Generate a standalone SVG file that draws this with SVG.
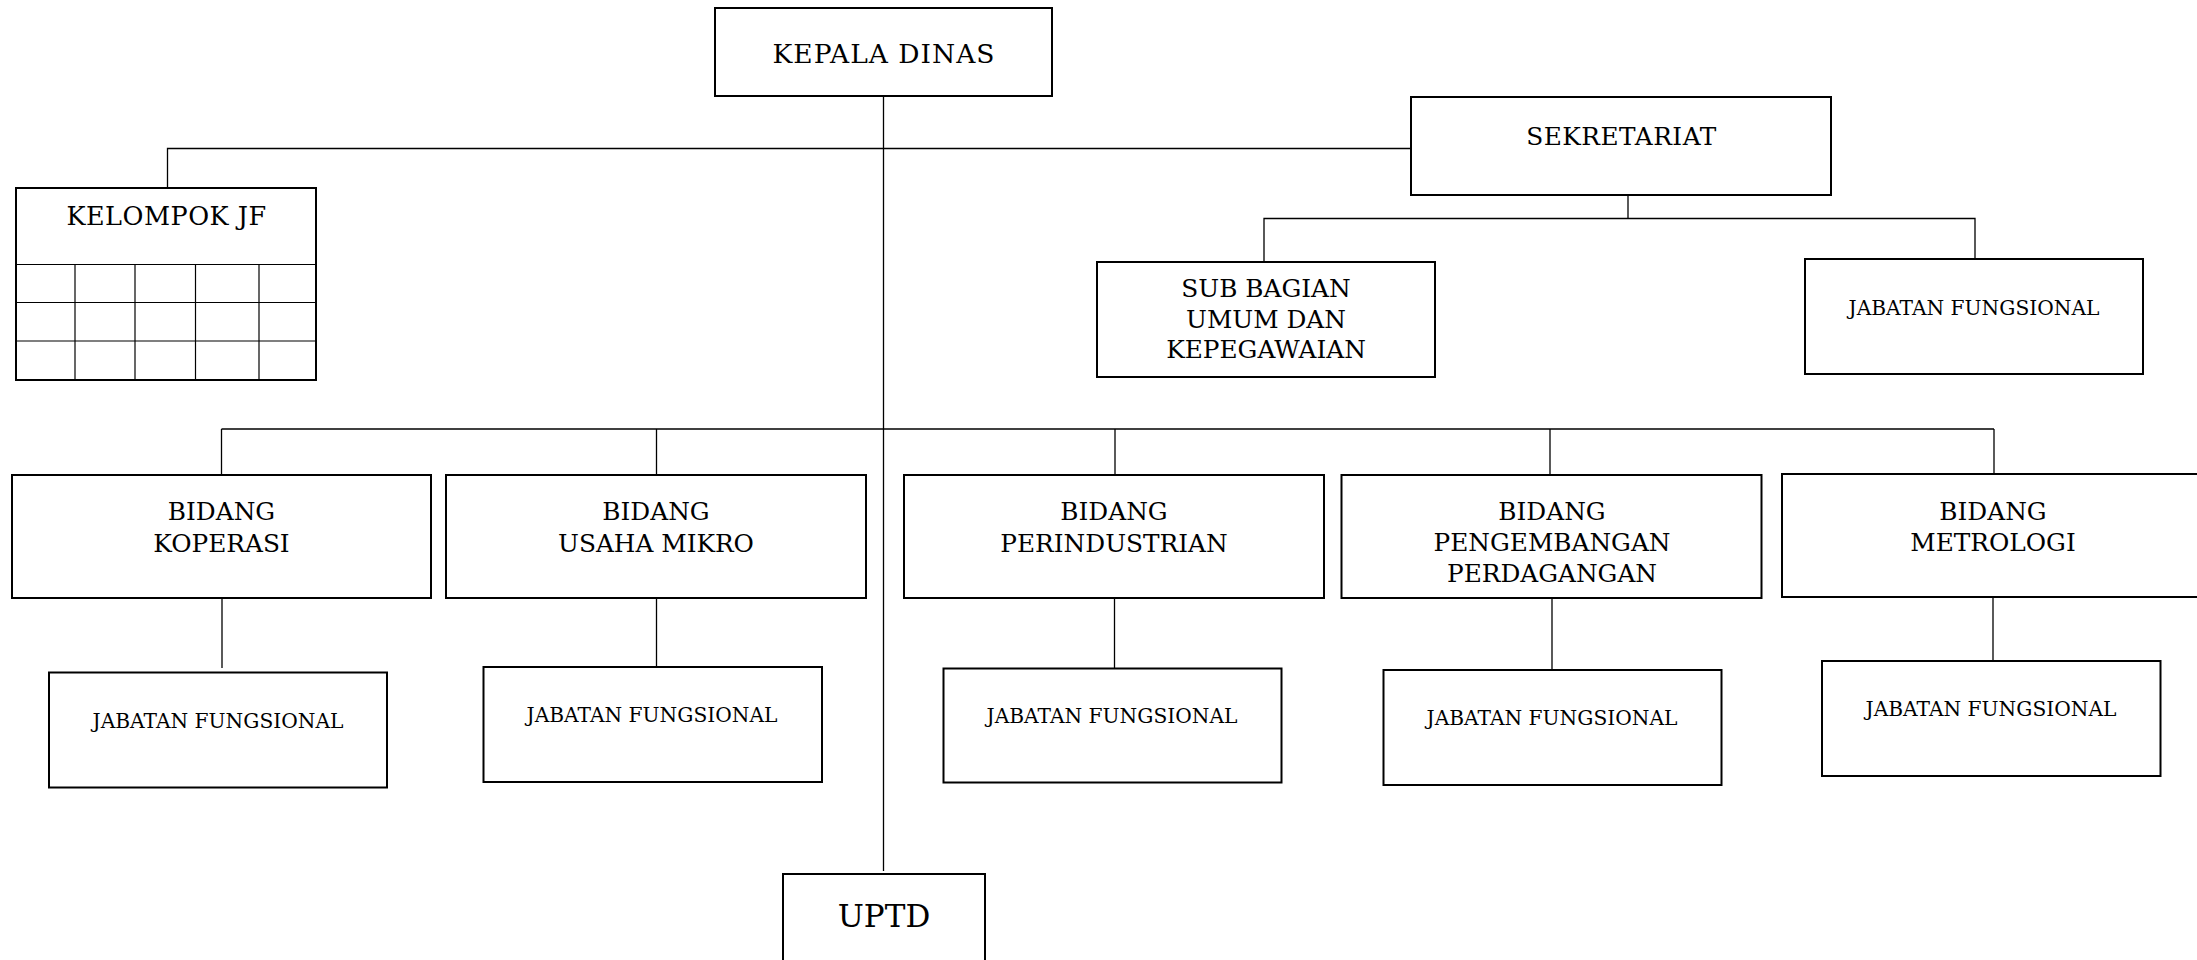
<svg xmlns="http://www.w3.org/2000/svg" width="2197" height="960" viewBox="0 0 2197 960">
<style>
.box{fill:#fff;stroke:#000;stroke-width:2}
.grid{fill:none;stroke:#000;stroke-width:1.2}
.ln{fill:none;stroke:#000;stroke-width:1.3}
.t{font-family:"DejaVu Serif","Liberation Serif",serif;font-size:24.8px;fill:#000;text-anchor:middle}
.s{font-family:"DejaVu Serif","Liberation Serif",serif;font-size:20.2px;fill:#000;text-anchor:middle}
</style>
<rect width="2197" height="960" fill="#fff"/>
<g id="connectors">
<line class="ln" x1="883.5" y1="96" x2="883.5" y2="871"/>
<polyline class="ln" points="167.5,188 167.5,148.5 1411,148.5"/>
<polyline class="ln" points="1628,195 1628,218.5"/>
<polyline class="ln" points="1264,262 1264,218.5 1975,218.5 1975,261"/>
<line class="ln" x1="221.5" y1="429" x2="1994" y2="429"/>
<line class="ln" x1="221.5" y1="429" x2="221.5" y2="475"/>
<line class="ln" x1="656.5" y1="429" x2="656.5" y2="475"/>
<line class="ln" x1="1115" y1="429" x2="1115" y2="475"/>
<line class="ln" x1="1550" y1="429" x2="1550" y2="475"/>
<line class="ln" x1="1994" y1="429" x2="1994" y2="474"/>
<line class="ln" x1="222" y1="598" x2="222" y2="668"/>
<line class="ln" x1="656.5" y1="598" x2="656.5" y2="667"/>
<line class="ln" x1="1114.5" y1="598" x2="1114.5" y2="668"/>
<line class="ln" x1="1552" y1="598" x2="1552" y2="670"/>
<line class="ln" x1="1993" y1="597" x2="1993" y2="661"/>
</g>
<g id="kepala-dinas">
<rect class="box" x="715" y="8" width="337" height="88"/>
<text class="t" x="884" y="63" style="font-size:26.5px;letter-spacing:1px">KEPALA DINAS</text>
</g>
<g id="sekretariat">
<rect class="box" x="1411" y="97" width="420" height="98"/>
<text class="t" x="1621.5" y="145" style="letter-spacing:0.5px">SEKRETARIAT</text>
</g>
<g id="kelompok-jf">
<rect class="box" x="16" y="188" width="300" height="192"/>
<line class="grid" x1="16" y1="264.5" x2="316" y2="264.5" stroke-width="2"/>
<line class="grid" x1="16" y1="302.5" x2="316" y2="302.5"/>
<line class="grid" x1="16" y1="341" x2="316" y2="341"/>
<line class="grid" x1="75" y1="264.5" x2="75" y2="380"/>
<line class="grid" x1="135" y1="264.5" x2="135" y2="380"/>
<line class="grid" x1="195.5" y1="264.5" x2="195.5" y2="380"/>
<line class="grid" x1="259" y1="264.5" x2="259" y2="380"/>
<text class="t" x="166.5" y="225" style="font-size:25.5px;letter-spacing:0.5px">KELOMPOK JF</text>
</g>
<g id="sub-bagian-umum">
<rect class="box" x="1097" y="262" width="338" height="115"/>
<text class="t" x="1266" y="297">SUB BAGIAN</text>
<text class="t" x="1266" y="328">UMUM DAN</text>
<text class="t" x="1266" y="358">KEPEGAWAIAN</text>
</g>
<g id="jf-sekretariat">
<rect class="box" x="1805" y="259" width="338" height="115"/>
<text class="s" x="1974" y="315">JABATAN FUNGSIONAL</text>
</g>
<g id="bidang-koperasi">
<rect class="box" x="12" y="475" width="419" height="123"/>
<text class="t" x="221.5" y="520">BIDANG</text>
<text class="t" x="221.5" y="552">KOPERASI</text>
</g>
<g id="bidang-usaha-mikro">
<rect class="box" x="446" y="475" width="420" height="123"/>
<text class="t" x="656" y="520">BIDANG</text>
<text class="t" x="656" y="552">USAHA MIKRO</text>
</g>
<g id="bidang-perindustrian">
<rect class="box" x="904" y="475" width="420" height="123"/>
<text class="t" x="1114" y="520">BIDANG</text>
<text class="t" x="1114" y="552">PERINDUSTRIAN</text>
</g>
<g id="bidang-pengembangan">
<rect class="box" x="1341.5" y="475" width="420" height="123"/>
<text class="t" x="1552" y="520">BIDANG</text>
<text class="t" x="1552" y="551">PENGEMBANGAN</text>
<text class="t" x="1552" y="582">PERDAGANGAN</text>
</g>
<g id="bidang-metrologi">
<rect class="box" x="1782" y="474" width="430" height="123"/>
<text class="t" x="1993" y="520">BIDANG</text>
<text class="t" x="1993" y="551">METROLOGI</text>
</g>
<g id="jf-koperasi">
<rect class="box" x="49" y="672.5" width="338" height="115"/>
<text class="s" x="218" y="728">JABATAN FUNGSIONAL</text>
</g>
<g id="jf-usaha-mikro">
<rect class="box" x="483.5" y="667" width="338.5" height="115"/>
<text class="s" x="652" y="722">JABATAN FUNGSIONAL</text>
</g>
<g id="jf-perindustrian">
<rect class="box" x="943.5" y="668.5" width="338" height="114"/>
<text class="s" x="1112" y="723">JABATAN FUNGSIONAL</text>
</g>
<g id="jf-pengembangan">
<rect class="box" x="1383.5" y="670" width="338" height="115"/>
<text class="s" x="1552" y="725">JABATAN FUNGSIONAL</text>
</g>
<g id="jf-metrologi">
<rect class="box" x="1822" y="661" width="338.5" height="115"/>
<text class="s" x="1991" y="716">JABATAN FUNGSIONAL</text>
</g>
<g id="uptd">
<rect class="box" x="783" y="874" width="202" height="100" stroke-width="1.5"/>
<text class="t" x="884" y="927" style="font-size:31px">UPTD</text>
</g>
</svg>
